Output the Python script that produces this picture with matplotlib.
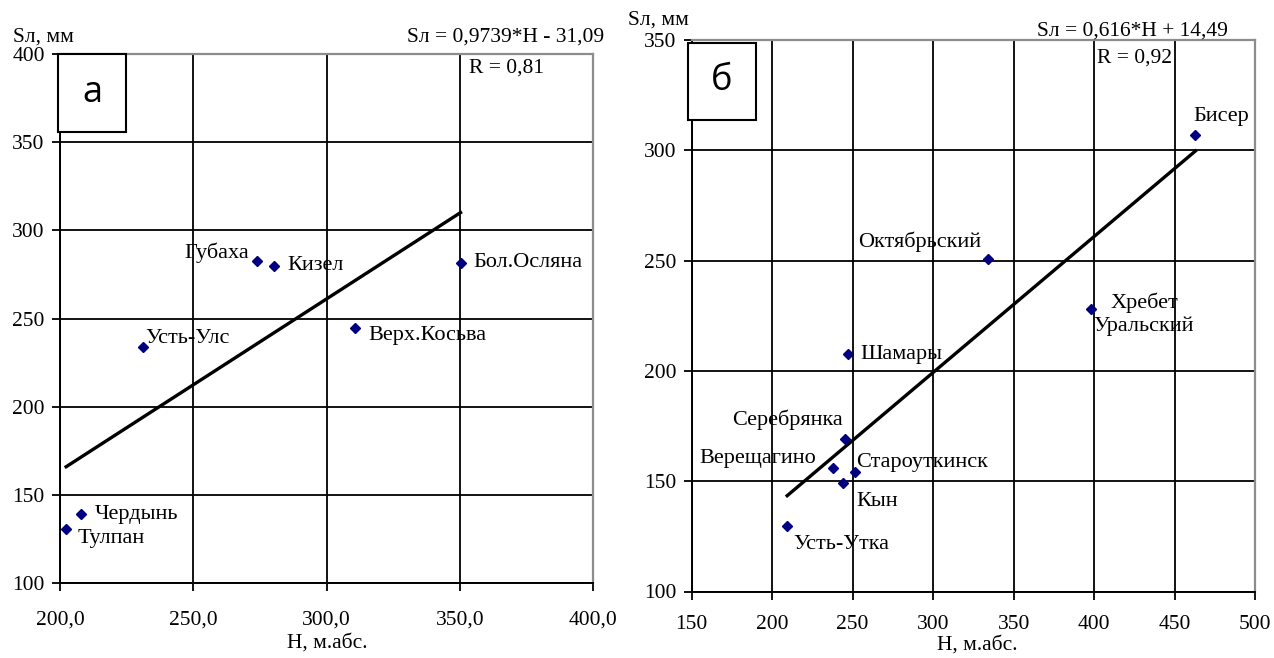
"""
plot.py - Snow depth vs station altitude, two regions (а, б).
Scatter of stations with linear regression line and equation.
"""

import numpy as np
import matplotlib
matplotlib.use("Agg")
import matplotlib.pyplot as plt
from matplotlib.patches import Rectangle
from matplotlib.ticker import FuncFormatter

plt.rcParams["font.family"] = ["Liberation Serif", "DejaVu Serif"]

W, H_PX = 1274, 658

# ---- panel а -------------------------------------------------------------
names_a = ["Тулпан", "Чердынь", "Усть-Улс", "Губаха", "Кизел",
           "Верх.Косьва", "Бол.Осляна"]
h_a = np.array([202.3, 207.9, 231.0, 274.0, 280.3, 310.8, 350.3])
s_a = np.array([130.6, 139.1, 234.0, 282.4, 280.0, 244.7, 281.5])
slope_a, icpt_a, r_a = 0.9739, -31.09, 0.81
# label offsets in pixels (dx, dy), alignment
lab_a = [(11, -9, "left"), (14, 0, "left"), (3, 8, "left"), (-8, 9, "right"),
         (13, 0, "left"), (13, -8, "left"), (13, 0, "left")]

# ---- panel б -------------------------------------------------------------
names_b = ["Бисер", "Хребет\nУральский", "Октябрьский", "Шамары", "Серебрянка",
           "Верещагино", "Староуткинск", "Кын", "Усть-Утка"]
h_b = np.array([463.0, 398.1, 334.1, 246.9, 245.2, 237.6, 251.7, 244.3, 209.3])
s_b = np.array([307.1, 228.0, 250.6, 207.5, 169.1, 156.0, 154.1, 149.2, 129.8])
slope_b, icpt_b, r_b = 0.616, 14.49, 0.92
lab_b = [(-2, 18, "left"), (53, -5, "center"), (-7, 18, "right"), (13, 0, "left"),
         (-2, 19, "right"), (-17, 9, "right"), (1, 10, "left"), (13, -19, "left"),
         (6, -19, "left")]


def fig_xy(px, py):
    return px / W, 1 - py / H_PX


def setup_axes(ax, xlim, ylim, xticks, yticks, xfmt, xpad):
    ax.set_xlim(*xlim)
    ax.set_ylim(*ylim)
    ax.set_xticks(xticks)
    ax.set_yticks(yticks)
    ax.xaxis.set_major_formatter(FuncFormatter(xfmt))
    ax.grid(True, color="black", linewidth=1.3)
    ax.set_axisbelow(True)
    for side in ("left", "bottom"):
        ax.spines[side].set_color("black")
        ax.spines[side].set_linewidth(1.4)
    for side in ("top", "right"):
        ax.spines[side].set_color("#8c8c8c")
        ax.spines[side].set_linewidth(1.6)
    ax.tick_params(axis="x", direction="out", length=6, width=1.3,
                   labelsize=15.5, pad=xpad)
    ax.tick_params(axis="y", direction="out", length=6, width=1.3,
                   labelsize=15.5, pad=5)


def draw_panel(ax, h, s, names, offs, slope, icpt):
    x_fit = np.array([h.min(), h.max()])
    ax.plot(x_fit, slope * x_fit + icpt, color="black", linewidth=2.4, zorder=3)
    ax.plot(h, s, linestyle="none", marker="D", markersize=4.8,
            color="#000080", zorder=4)
    for x, y, name, (dx, dy, ha) in zip(h, s, names, offs):
        ax.annotate(name, (x, y), xytext=(dx, dy), textcoords="offset pixels",
                    ha=ha, va="center", fontsize=16, multialignment="center",
                    zorder=5)


def panel_box(ax, x0, x1, y0, y1, letter):
    ax.add_patch(Rectangle((x0, y0), x1 - x0, y1 - y0, transform=ax.transAxes,
                           facecolor="white", edgecolor="black", linewidth=1.5,
                           clip_on=False, zorder=6))
    ax.text((x0 + x1) / 2, (y0 + y1) / 2, letter, transform=ax.transAxes,
            ha="center", va="center", fontsize=26, family="Open Sans", zorder=7)


fig = plt.figure(figsize=(W / 100, H_PX / 100), dpi=100)

ax_a = fig.add_axes([60 / W, 75 / H_PX, 533 / W, 529 / H_PX])
setup_axes(ax_a, (200, 400), (100, 400), np.arange(200, 401, 50),
           np.arange(100, 401, 50), lambda v, p: f"{v:.1f}".replace(".", ","), 14)
draw_panel(ax_a, h_a, s_a, names_a, lab_a, slope_a, icpt_a)
panel_box(ax_a, -0.004, 0.124, 0.853, 1.0, "а")

ax_b = fig.add_axes([691.7 / W, 66.5 / H_PX, 563.3 / W, 551.5 / H_PX])
setup_axes(ax_b, (150, 500), (100, 350), np.arange(150, 501, 50),
           np.arange(100, 351, 50), lambda v, p: f"{v:.0f}", 11)
draw_panel(ax_b, h_b, s_b, names_b, lab_b, slope_b, icpt_b)
panel_box(ax_b, -0.007, 0.114, 0.855, 0.995, "б")

# axis titles and regression equations
fig.text(*fig_xy(13, 37), "Sл, мм", ha="left", va="center", fontsize=15.5)
fig.text(*fig_xy(628, 20), "Sл, мм", ha="left", va="center", fontsize=15.5)
fig.text(*fig_xy(327, 643), "H, м.абс.", ha="center", va="center", fontsize=15.5)
fig.text(*fig_xy(977, 645), "H, м.абс.", ha="center", va="center", fontsize=15.5)

sign_a = "-" if icpt_a < 0 else "+"
fig.text(*fig_xy(604, 37), f"Sл = {slope_a:.4f}*H {sign_a} {abs(icpt_a):.2f}".replace(".", ","),
         ha="right", va="center", fontsize=15.5)
fig.text(*fig_xy(469, 68), f"R = {r_a:.2f}".replace(".", ","),
         ha="left", va="center", fontsize=15.5)
sign_b = "-" if icpt_b < 0 else "+"
fig.text(*fig_xy(1228, 31), f"Sл = {slope_b:.3f}*H {sign_b} {abs(icpt_b):.2f}".replace(".", ","),
         ha="right", va="center", fontsize=15.5)
fig.text(*fig_xy(1097, 58), f"R = {r_b:.2f}".replace(".", ","),
         ha="left", va="center", fontsize=15.5)

fig.savefig("out.png", dpi=100)
